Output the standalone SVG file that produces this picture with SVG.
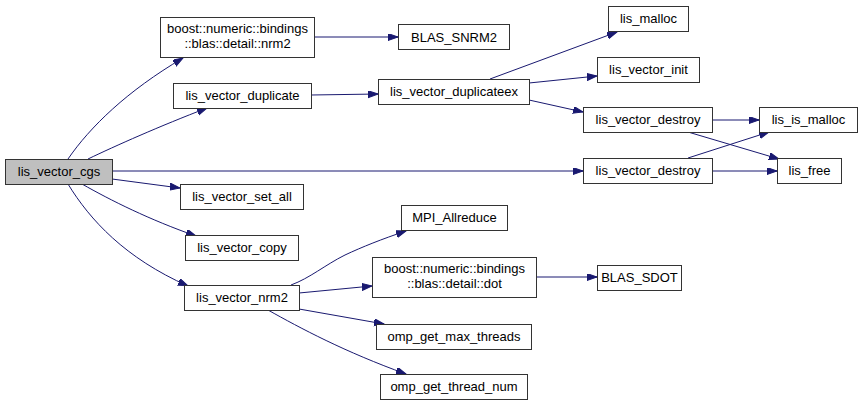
<svg xmlns="http://www.w3.org/2000/svg" width="863" height="405" viewBox="0 0 863 405">
<style>
.n rect{fill:#ffffff;stroke:#333333;stroke-width:1}
.n text{font-family:"Liberation Sans",Arial,sans-serif;font-size:13px;fill:#000000;text-anchor:middle}
.e path{fill:none;stroke:#191970;stroke-width:1;marker-end:url(#a)}
</style>
<defs>
<marker id="a" markerUnits="userSpaceOnUse" markerWidth="11" markerHeight="8" refX="10" refY="3.5" orient="auto">
<path d="M0,0 L10,3.5 L0,7 z" fill="#191970" stroke="#191970" stroke-width="1"/>
</marker>
</defs>
<rect width="863" height="405" fill="#ffffff"/>
<g id="edges" class="e">
<path d="M68,159 C90,127 127,91 183,58"/>
<path d="M88,159 C115,146 160,126 207,108"/>
<path d="M112,171 L583,171"/>
<path d="M112,179 L180,188"/>
<path d="M82,184 C110,200 150,220 196,236"/>
<path d="M68,184 C90,220 125,258 188,286"/>
<path d="M311,95 L378,94"/>
<path d="M314,37 L398,37"/>
<path d="M490,79 L617,32"/>
<path d="M529,83 L597,76"/>
<path d="M529,100 L583,112"/>
<path d="M712,120 L759,120"/>
<path d="M688,132 L779,159"/>
<path d="M688,158 L769,132"/>
<path d="M712,171 L777,171"/>
<path d="M291,285 C310,278 325,265 345,255 C362,247 382,239 406,231"/>
<path d="M299,293 L372,286"/>
<path d="M299,309 L384,324"/>
<path d="M268,310 C300,328 345,352 406,374"/>
<path d="M536,277 L597,277"/>
</g>
<g id="lis_vector_cgs" class="n"><rect x="5.5" y="159.5" width="107" height="25" style="fill:#bfbfbf"/><text x="59" y="176">lis_vector_cgs</text></g>
<g id="nrm2" class="n"><rect x="160.5" y="17.5" width="154" height="40"/><text x="237.5" y="33">boost::numeric::bindings</text><text x="237.5" y="48">::blas::detail::nrm2</text></g>
<g id="lis_vector_duplicate" class="n"><rect x="173.5" y="83.5" width="138" height="25"/><text x="242.5" y="100">lis_vector_duplicate</text></g>
<g id="BLAS_SNRM2" class="n"><rect x="398.5" y="24.5" width="111" height="25"/><text x="454" y="41.5">BLAS_SNRM2</text></g>
<g id="lis_vector_duplicateex" class="n"><rect x="378.5" y="79.5" width="151" height="25"/><text x="454" y="96">lis_vector_duplicateex</text></g>
<g id="lis_malloc" class="n"><rect x="608.5" y="6.5" width="80" height="25"/><text x="648.5" y="23">lis_malloc</text></g>
<g id="lis_vector_init" class="n"><rect x="597.5" y="57.5" width="102" height="25"/><text x="648.5" y="74">lis_vector_init</text></g>
<g id="lis_vector_destroy_a" class="n"><rect x="583.5" y="107.5" width="129" height="25"/><text x="648" y="124">lis_vector_destroy</text></g>
<g id="lis_is_malloc" class="n"><rect x="759.5" y="107.5" width="98" height="25"/><text x="808.5" y="124">lis_is_malloc</text></g>
<g id="lis_vector_destroy_b" class="n"><rect x="583.5" y="158.5" width="129" height="25"/><text x="648" y="175">lis_vector_destroy</text></g>
<g id="lis_free" class="n"><rect x="777.5" y="158.5" width="64" height="25"/><text x="809.5" y="175">lis_free</text></g>
<g id="lis_vector_set_all" class="n"><rect x="180.5" y="184.5" width="123" height="25"/><text x="242" y="201">lis_vector_set_all</text></g>
<g id="lis_vector_copy" class="n"><rect x="185.5" y="235.5" width="113" height="25"/><text x="242" y="252">lis_vector_copy</text></g>
<g id="lis_vector_nrm2" class="n"><rect x="184.5" y="285.5" width="115" height="25"/><text x="242" y="302">lis_vector_nrm2</text></g>
<g id="MPI_Allreduce" class="n"><rect x="401.5" y="205.5" width="106" height="25"/><text x="454.5" y="222">MPI_Allreduce</text></g>
<g id="dot" class="n"><rect x="372.5" y="257.5" width="164" height="40"/><text x="454.5" y="273">boost::numeric::bindings</text><text x="454.5" y="288">::blas::detail::dot</text></g>
<g id="BLAS_SDOT" class="n"><rect x="597.5" y="265.5" width="84" height="25"/><text x="639.5" y="282">BLAS_SDOT</text></g>
<g id="omp_get_max_threads" class="n"><rect x="376.5" y="324.5" width="155" height="25"/><text x="454" y="341">omp_get_max_threads</text></g>
<g id="omp_get_thread_num" class="n"><rect x="380.5" y="374.5" width="147" height="25"/><text x="454" y="391">omp_get_thread_num</text></g>
</svg>
